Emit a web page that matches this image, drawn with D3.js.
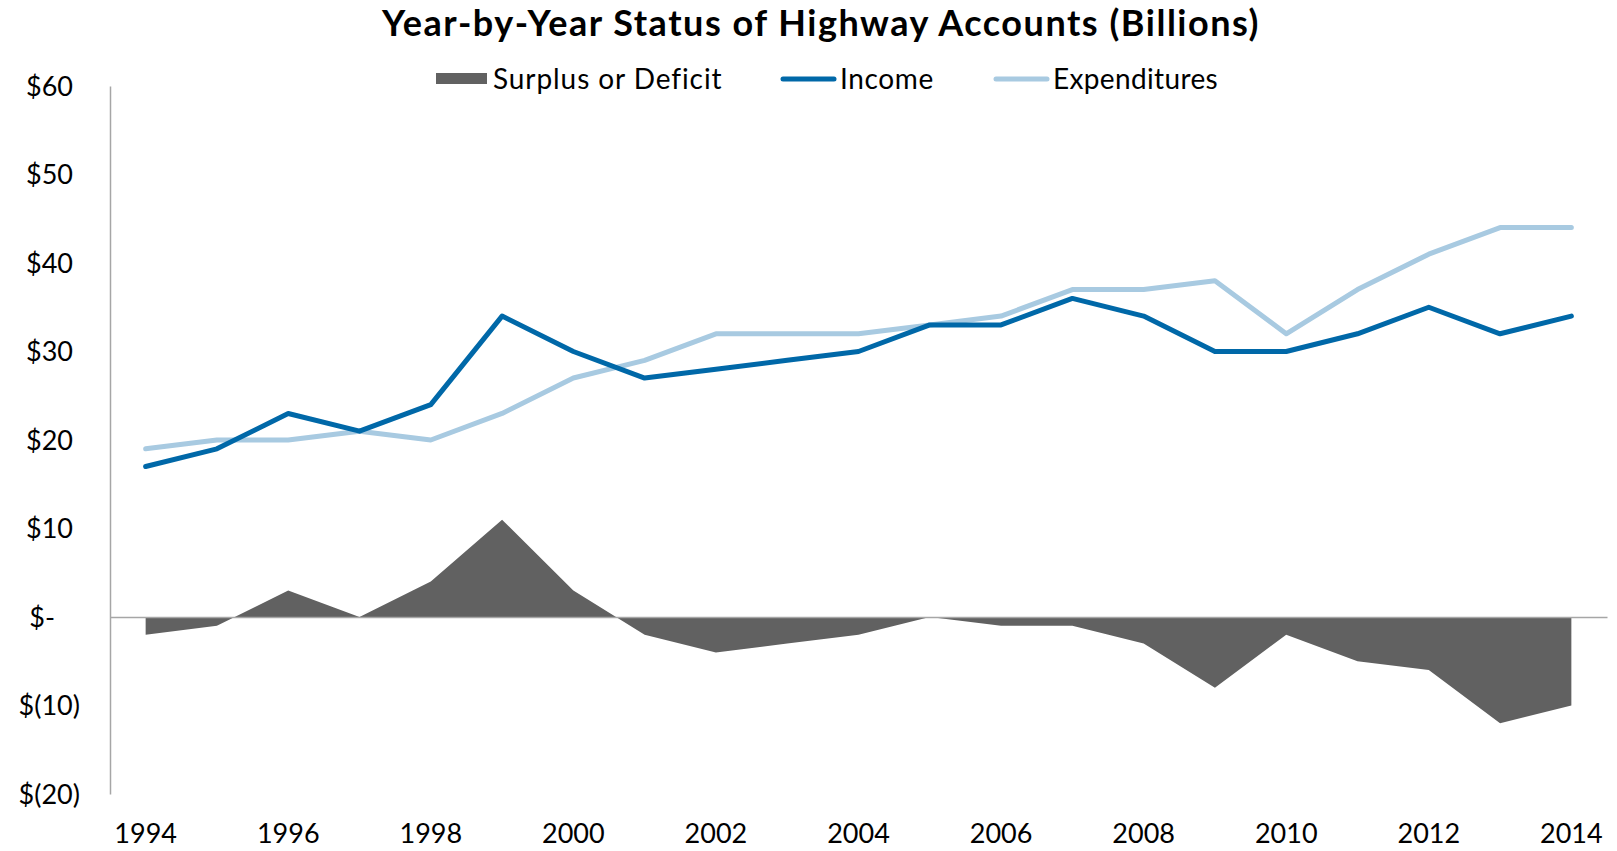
<!DOCTYPE html>
<html>
<head>
<meta charset="utf-8">
<script src="https://cdn.jsdelivr.net/npm/d3@7"></script>
<style>
  html, body { margin: 0; padding: 0; background: #ffffff; }
  svg { display: block; }
  text { font-family: "Lato", "DejaVu Sans", sans-serif; fill: #000; }
</style>
</head>
<body>
<svg id="chart" width="1617" height="851"></svg>
<script>
// ---- Data ----
const years = [1994,1995,1996,1997,1998,1999,2000,2001,2002,2003,2004,2005,2006,2007,2008,2009,2010,2011,2012,2013,2014];
const income = [17,19,23,21,24,34,30,27,28,29,30,33,33,36,34,30,30,32,35,32,34];
const expenditures = [19,20,20,21,20,23,27,29,32,32,32,33,34,37,37,38,32,37,41,44,44];
const surplus = [-2,-1,3,0,4,11,3,-2,-4,-3,-2,0,-1,-1,-3,-8,-2,-5,-6,-12,-10];
const xTickYears = [1994,1996,1998,2000,2002,2004,2006,2008,2010,2012,2014];
const yTicks = [-20,-10,0,10,20,30,40,50,60];
const seriesNames = ["Surplus or Deficit", "Income", "Expenditures"];
const title = "Year-by-Year Status of Highway Accounts (Billions)";

const colors = { surplus: "#616161", income: "#0068a8", expend: "#a8cae1", axis: "#a6a6a6" };

const svg = d3.select("#chart");

// stretch a text to a target width with letter spacing
function fitWidth(sel, target) {
  const node = sel.node();
  const n = sel.text().length;
  const w = node.getComputedTextLength();
  sel.style("letter-spacing", ((target - w) / n) + "px");
}

const x = d3.scaleBand().domain(years).range([110, 1607]);
const xc = d => x(d) + x.bandwidth() / 2;
const y = d3.scaleLinear().domain([-20, 60]).range([794, 86]);

// Title
const t = svg.append("text")
  .attr("x", 382).attr("y", 36)
  .attr("text-anchor", "start")
  .style("font-weight", "bold").style("font-size", "36px")
  .text(title);
fitWidth(t, 878);

// Surplus area
const area = d3.area()
  .x((d, i) => xc(years[i]))
  .y0(y(0))
  .y1(d => y(d));
svg.append("path")
  .datum(surplus)
  .attr("d", area)
  .attr("fill", colors.surplus);

// Y axis
const yAxisG = svg.append("g").attr("transform", "translate(110,0)")
  .call(d3.axisLeft(y).tickValues(yTicks).tickSize(0).tickFormat(d => d));
yAxisG.select(".domain").attr("stroke", colors.axis).attr("stroke-width", 1.5);
yAxisG.selectAll(".tick text")
  .style("font-size", "27px")
  .style("font-family", "Lato, sans-serif")
  .attr("fill", "#000")
  .attr("text-anchor", "end")
  .attr("x", d => d > 0 ? -37 : (d < 0 ? -30 : -55))
  .attr("dy", "0.35em")
  .text(d => d > 0 ? "$" + d : (d < 0 ? "$(" + Math.abs(d) + ")" : "$-"));

// zero line (category axis)
const xAxisG = svg.append("g").attr("transform", `translate(0,${y(0)})`)
  .call(d3.axisBottom(x).tickSize(0).tickFormat(""));
xAxisG.select(".domain").attr("stroke", colors.axis).attr("stroke-width", 1.5);

// x tick labels at bottom
const xLabG = svg.append("g").attr("transform", "translate(0,794)")
  .call(d3.axisBottom(x).tickValues(xTickYears).tickSize(0));
xLabG.select(".domain").remove();
xLabG.selectAll(".tick text")
  .style("font-size", "27px")
  .style("font-family", "Lato, sans-serif")
  .attr("fill", "#000")
  .attr("y", 40)
  .attr("dy", "0.35em");

// Lines
const line = d3.line().x((d, i) => xc(years[i])).y(d => y(d));
svg.append("path").datum(expenditures).attr("d", line)
  .attr("fill", "none").attr("stroke", colors.expend).attr("stroke-width", 5)
  .attr("stroke-linecap", "round").attr("stroke-linejoin", "round");
svg.append("path").datum(income).attr("d", line)
  .attr("fill", "none").attr("stroke", colors.income).attr("stroke-width", 5)
  .attr("stroke-linecap", "round").attr("stroke-linejoin", "round");

// Legend
const leg = svg.append("g");
const legY = 79;
leg.append("rect").attr("x", 436).attr("y", 73).attr("width", 51).attr("height", 11).attr("fill", colors.surplus);
const l1 = leg.append("text").attr("x", 493).attr("y", legY).attr("dy", "0.35em").style("font-size", "28px").text(seriesNames[0]);
fitWidth(l1, 229);
leg.append("line").attr("x1", 783).attr("x2", 834).attr("y1", legY).attr("y2", legY)
  .attr("stroke", colors.income).attr("stroke-width", 5).attr("stroke-linecap", "round");
const l2 = leg.append("text").attr("x", 840).attr("y", legY).attr("dy", "0.35em").style("font-size", "28px").text(seriesNames[1]);
fitWidth(l2, 94);
leg.append("line").attr("x1", 996).attr("x2", 1047).attr("y1", legY).attr("y2", legY)
  .attr("stroke", colors.expend).attr("stroke-width", 5).attr("stroke-linecap", "round");
const l3 = leg.append("text").attr("x", 1053).attr("y", legY).attr("dy", "0.35em").style("font-size", "28px").text(seriesNames[2]);
fitWidth(l3, 165);
</script>
</body>
</html>
